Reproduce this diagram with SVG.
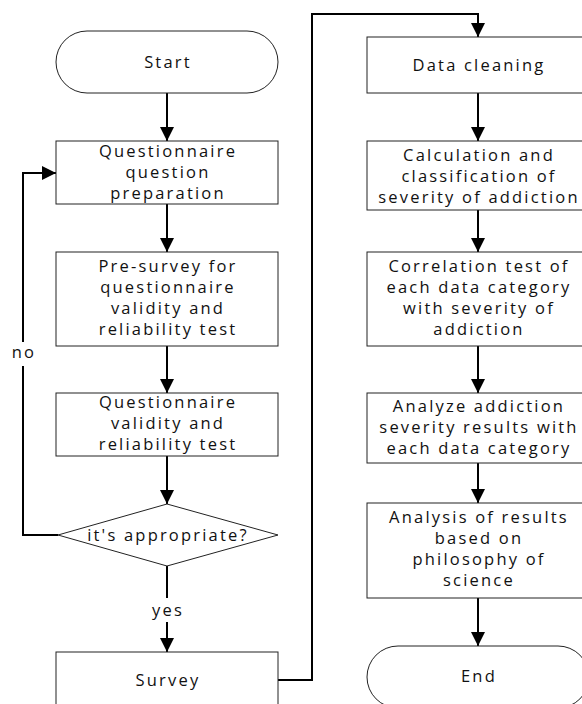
<svg xmlns="http://www.w3.org/2000/svg" width="582" height="704" viewBox="0 0 582 704">
<defs>
<marker id="ah" markerUnits="userSpaceOnUse" markerWidth="14" markerHeight="14" refX="14" refY="7" orient="auto">
<path d="M0,0 L14,7 L0,14 z" fill="#000"/>
</marker>
<style>
.n{fill:#fff;stroke:#222;stroke-width:1}
.t{font-family:"Open Sans","Liberation Sans",sans-serif;font-size:16.5px;letter-spacing:2.2px;fill:#111;text-anchor:middle}
.c{fill:none;stroke:#000;stroke-width:2}
</style>
</defs>
<rect width="582" height="704" fill="#fff"/>
<g id="connectors">
<line class="c" x1="167" y1="93" x2="167" y2="141" marker-end="url(#ah)"/>
<line class="c" x1="167" y1="204" x2="167" y2="252" marker-end="url(#ah)"/>
<line class="c" x1="167" y1="346" x2="167" y2="393" marker-end="url(#ah)"/>
<line class="c" x1="167" y1="456" x2="167" y2="504" marker-end="url(#ah)"/>
<line class="c" x1="167" y1="566" x2="167" y2="598"/>
<line class="c" x1="167" y1="622" x2="167" y2="652" marker-end="url(#ah)"/>
<polyline class="c" points="58,535 23,535 23,366"/>
<polyline class="c" points="23,342 23,173 56,173" marker-end="url(#ah)"/>
<polyline class="c" points="278,680 312,680 312,14 478,14 478,37" marker-end="url(#ah)"/>
<line class="c" x1="478" y1="93" x2="478" y2="141" marker-end="url(#ah)"/>
<line class="c" x1="478" y1="210" x2="478" y2="252" marker-end="url(#ah)"/>
<line class="c" x1="478" y1="346" x2="478" y2="393" marker-end="url(#ah)"/>
<line class="c" x1="478" y1="463" x2="478" y2="503" marker-end="url(#ah)"/>
<line class="c" x1="478" y1="598" x2="478" y2="646" marker-end="url(#ah)"/>
<text class="t" x="168" y="616">yes</text>
<text class="t" x="24" y="358">no</text>
</g>
<g id="start">
<rect class="n" x="56" y="31" width="222" height="62" rx="31" ry="31"/>
<text class="t" x="168" y="68">Start</text>
</g>
<g id="prep">
<rect class="n" x="56" y="141" width="222" height="63"/>
<text class="t" x="168" y="157">Questionnaire</text>
<text class="t" x="168" y="178">question</text>
<text class="t" x="168" y="199">preparation</text>
</g>
<g id="presurvey">
<rect class="n" x="56" y="252" width="222" height="94"/>
<text class="t" x="168" y="272">Pre-survey for</text>
<text class="t" x="168" y="293">questionnaire</text>
<text class="t" x="168" y="314">validity and</text>
<text class="t" x="168" y="335">reliability test</text>
</g>
<g id="validity">
<rect class="n" x="56" y="393" width="222" height="63"/>
<text class="t" x="168" y="408">Questionnaire</text>
<text class="t" x="168" y="429">validity and</text>
<text class="t" x="168" y="450">reliability test</text>
</g>
<g id="decision">
<polygon class="n" points="167,504 278,535 167,566 58,535"/>
<text class="t" x="168" y="541">it's appropriate?</text>
</g>
<g id="survey">
<rect class="n" x="56" y="652" width="222" height="60"/>
<text class="t" x="168" y="686">Survey</text>
</g>
<g id="cleaning">
<rect class="n" x="367" y="37" width="222" height="56"/>
<text class="t" x="479" y="71">Data cleaning</text>
</g>
<g id="calc">
<rect class="n" x="367" y="141" width="222" height="69"/>
<text class="t" x="479" y="161">Calculation and</text>
<text class="t" x="479" y="182">classification of</text>
<text class="t" x="479" y="203">severity of addiction</text>
</g>
<g id="correlation">
<rect class="n" x="367" y="252" width="222" height="94"/>
<text class="t" x="479" y="272">Correlation test of</text>
<text class="t" x="479" y="293">each data category</text>
<text class="t" x="479" y="314">with severity of</text>
<text class="t" x="479" y="335">addiction</text>
</g>
<g id="analyze">
<rect class="n" x="367" y="393" width="222" height="70"/>
<text class="t" x="479" y="412">Analyze addiction</text>
<text class="t" x="479" y="433">severity results with</text>
<text class="t" x="479" y="454">each data category</text>
</g>
<g id="analysis">
<rect class="n" x="367" y="503" width="222" height="95"/>
<text class="t" x="479" y="523">Analysis of results</text>
<text class="t" x="479" y="544">based on</text>
<text class="t" x="479" y="565">philosophy of</text>
<text class="t" x="479" y="586">science</text>
</g>
<g id="end">
<rect class="n" x="367" y="646" width="222" height="62" rx="31" ry="31"/>
<text class="t" x="479" y="682">End</text>
</g>
</svg>
